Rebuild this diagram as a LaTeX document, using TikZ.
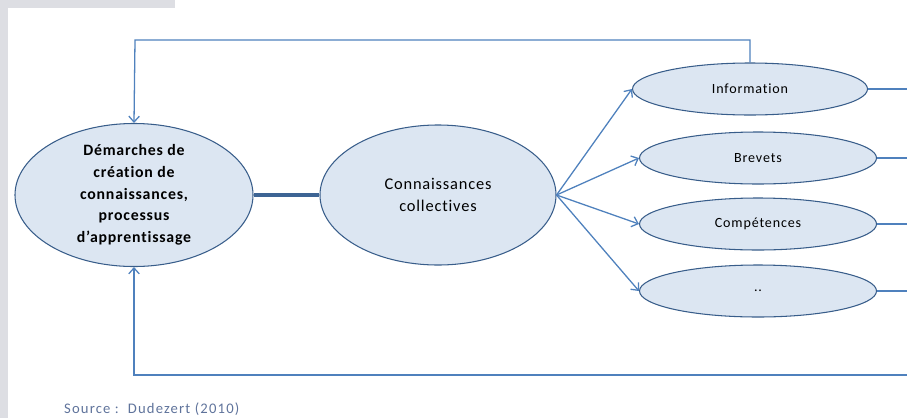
\documentclass[tikz,border=0pt]{standalone}
\usepackage{fontspec}
\setmainfont{Carlito}[Ligatures=NoCommon]
\usetikzlibrary{shapes.geometric,arrows.meta,positioning}
\definecolor{fillblue}{RGB}{220,230,242}
\definecolor{edgeblue}{RGB}{56,93,138}
\definecolor{lineblue}{RGB}{79,129,189}
\definecolor{pagegray}{RGB}{221,222,227}
\definecolor{srcblue}{RGB}{95,115,155}
\tikzset{
    bulle/.style={draw=edgeblue, fill=fillblue, ellipse, line width=0.9pt, inner sep=0pt, align=center},
    petite/.style={bulle, minimum width=7.11cm, minimum height=1.56cm, font=\fontsize{12}{14}\selectfont\addfontfeatures{LetterSpace=6}},
    lien/.style={draw=lineblue, line width=1.1pt},
    fleche/.style={lien, -{Straight Barb[length=5pt,width=9pt]}}
}

\begin{document}
\begin{tikzpicture}[x=0.03cm,y=-0.03cm]
    \useasboundingbox (0,0) rectangle (907,418);
    \fill[pagegray] (0,0) rectangle (8,418);
    \fill[pagegray] (0,0) rectangle (175,8);

    \node[bulle, minimum width=7.14cm, minimum height=4.29cm, font=\fontsize{13.5}{18.5}\selectfont\bfseries\addfontfeatures{LetterSpace=5}] (demarches) at (134,195) {D\'emarches de\\cr\'eation de\\connaissances,\\processus\\d’apprentissage};
    \node[bulle, minimum width=7.08cm, minimum height=4.2cm, font=\fontsize{14}{18.7}\selectfont\addfontfeatures{LetterSpace=5}] (collectives) at (438,195) {Connaissances\\collectives};
    \node[petite, minimum width=7.05cm] (info) at (750,89) {Information};
    \node[petite] (brevets) at (758,158) {Brevets};
    \node[petite] (comp) at (758,224) {Comp\'etences};
    \node[petite] (autres) at (758,291) {..};

    \draw[draw=edgeblue!80!lineblue, line width=3.2pt] (demarches.east) -- (collectives.west);
    \foreach \cible in {info,brevets,comp,autres}
        \draw[fleche] (collectives.east) -- (\cible.west);

    \coordinate (sortie1) at (907,89);
    \coordinate (sortie2) at (907,158);
    \coordinate (sortie3) at (907,224);
    \coordinate (sortie4) at (907,291);
    \coordinate (retour) at (907,375);
    \draw[lien] (info.east) -- (sortie1);
    \draw[lien] (brevets.east) -- (sortie2);
    \draw[lien] (comp.east) -- (sortie3);
    \draw[lien] (autres.east) -- (sortie4);
    \draw[fleche] (info.north) |- (135,40) -- (demarches.north);
    \draw[fleche] (retour) -| (demarches.south);

    \node[font=\fontsize{12.5}{14}\selectfont\addfontfeatures{LetterSpace=8}, text=srcblue, anchor=west] (source) at (60,409) {Source :\ \ Dudezert (2010)};
\end{tikzpicture}
\end{document}
